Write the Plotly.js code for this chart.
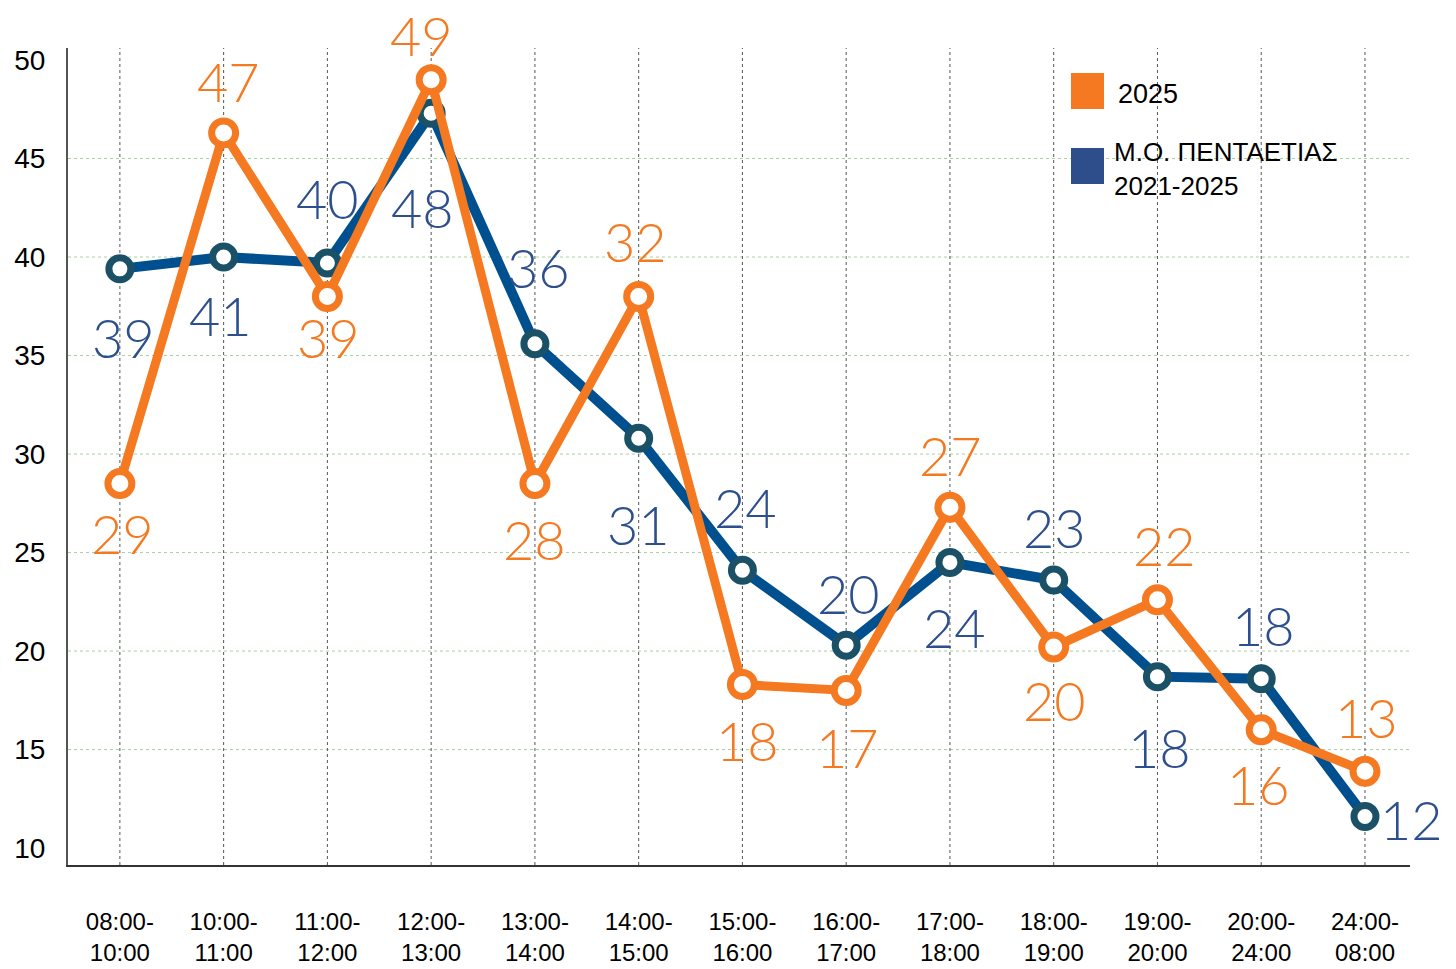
<!DOCTYPE html>
<html>
<head>
<meta charset="utf-8">
<script src="https://cdn.plot.ly/plotly-3.0.1.min.js"></script>
<style>
html,body{margin:0;padding:0;background:#fff;}
#chart{width:1456px;height:969px;}
</style>
</head>
<body>
<div id="chart"></div>
<script>
// ---- data ----
const categories = ["08:00-<br>10:00","10:00-<br>11:00","11:00-<br>12:00","12:00-<br>13:00","13:00-<br>14:00","14:00-<br>15:00","15:00-<br>16:00","16:00-<br>17:00","17:00-<br>18:00","18:00-<br>19:00","19:00-<br>20:00","20:00-<br>24:00","24:00-<br>08:00"];
const values2025 = [28.5, 46.3, 38.0, 49.0, 28.5, 38.0, 18.3, 18.0, 27.3, 20.2, 22.6, 16.0, 13.9];
const valuesAvg  = [39.4, 40.0, 39.7, 47.3, 35.6, 30.8, 24.1, 20.3, 24.5, 23.6, 18.7, 18.6, 11.6];
const labels2025 = ["29","47","39","49","28","32","18","17","27","20","22","16","13"];
const labelsAvg  = ["39","41","40","48","36","31","24","20","24","23","18","18","12"];
const yTicks = [10,15,20,25,30,35,40,45,50];
const yGrid  = [15,20,25,30,35,40,45];
const legendNames = ["2025","Μ.Ο. ΠΕΝΤΑΕΤΙΑΣ<br>2021-2025"];

// ---- label offsets (pixels, x right / y up) ----
const shift2025 = [[3,-50],[5,51],[1,-41],[-10,44],[0,-56],[-3,55],[5,-56],[1,-57],[1,52],[1,-53],[7,54],[-3,-55],[2,54]];
const shiftAvg  = [[4,-69],[-3,-58],[0,64],[-9,-94],[4,76],[0,-86],[3,63],[2,52],[5,-65],[1,53],[2,-71],[2,53],[47,-3]];

const ORANGE = "#f47920";
const BLUE_LINE = "#00508f";
const BLUE_RING = "#1b5166";
const BLUE_TEXT = "#2d4f8e";
const LBL_FONT = {family:"Lato, 'Open Sans', sans-serif", size:54, weight:300};

const traces = [
  {
    x: categories, y: valuesAvg, type:"scatter", mode:"lines+markers",
    line:{color:BLUE_LINE, width:10},
    marker:{size:22, color:"#ffffff", line:{color:BLUE_RING, width:7}},
    cliponaxis:false, hoverinfo:"skip", name:legendNames[1]
  },
  {
    x: categories, y: values2025, type:"scatter", mode:"lines+markers",
    line:{color:ORANGE, width:9},
    marker:{size:24, color:"#ffffff", line:{color:ORANGE, width:7}},
    cliponaxis:false, hoverinfo:"skip", name:legendNames[0]
  }
];

const annotations = [];
categories.forEach((c,i)=>{
  annotations.push({x:c, y:valuesAvg[i], xref:"x", yref:"y", text:labelsAvg[i], showarrow:false,
    xshift:shiftAvg[i][0], yshift:shiftAvg[i][1], font:Object.assign({color:BLUE_TEXT}, LBL_FONT)});
  annotations.push({x:c, y:values2025[i], xref:"x", yref:"y", text:labels2025[i], showarrow:false,
    xshift:shift2025[i][0], yshift:shift2025[i][1], font:Object.assign({color:ORANGE}, LBL_FONT)});
});
// legend texts
annotations.push({xref:"paper", yref:"paper", x:(1116-68)/1342, y:(865-94)/817, xanchor:"left", yanchor:"middle",
  text:legendNames[0], showarrow:false, font:{family:"Liberation Sans, Arial, sans-serif", size:27, color:"#000"}});
annotations.push({xref:"paper", yref:"paper", x:(1112-68)/1342, y:(865-169)/817, xanchor:"left", yanchor:"middle",
  text:legendNames[1], showarrow:false, align:"left", font:{family:"Liberation Sans, Arial, sans-serif", size:26, color:"#000"}});

const shapes = [];
yGrid.forEach(v=>{
  shapes.push({type:"line", xref:"paper", yref:"y", x0:0, x1:1, y0:v, y1:v, layer:"below",
    line:{color:"#a8d0a0", width:1, dash:"dot"}});
});
categories.forEach(c=>{
  shapes.push({type:"line", xref:"x", yref:"paper", x0:c, x1:c, y0:0, y1:1, layer:"below",
    line:{color:"#555555", width:1, dash:"dot"}});
});
// legend swatches
shapes.push({type:"rect", xref:"paper", yref:"paper", x0:(1071-68)/1342, x1:(1104-68)/1342, y0:(865-109)/817, y1:(865-73)/817,
  fillcolor:ORANGE, line:{width:0}});
shapes.push({type:"rect", xref:"paper", yref:"paper", x0:(1071-68)/1342, x1:(1104-68)/1342, y0:(865-184)/817, y1:(865-148)/817,
  fillcolor:"#2d4e8a", line:{width:0}});

const layout = {
  width:1456, height:969,
  margin:{l:68, r:46, t:48, b:104},
  paper_bgcolor:"#ffffff", plot_bgcolor:"#ffffff",
  showlegend:false,
  xaxis:{
    type:"category", range:[-0.5, 12.434], showgrid:false, zeroline:false,
    showline:true, linecolor:"#333333", linewidth:2, ticks:"",
    tickfont:{family:"Liberation Sans, Arial, sans-serif", size:24, color:"#000"},
    ticklabelstandoff:34, fixedrange:true
  },
  yaxis:{
    range:[9.14, 50.61], tickvals:yTicks, ticktext:yTicks.map(String), showgrid:false, zeroline:false,
    showline:true, linecolor:"#555555", linewidth:2, ticks:"",
    tickfont:{family:"Liberation Sans, Arial, sans-serif", size:28, color:"#000"},
    ticklabelstandoff:15, fixedrange:true
  },
  annotations: annotations,
  shapes: shapes
};

Plotly.newPlot("chart", traces, layout, {displayModeBar:false, staticPlot:true});
</script>
</body>
</html>
